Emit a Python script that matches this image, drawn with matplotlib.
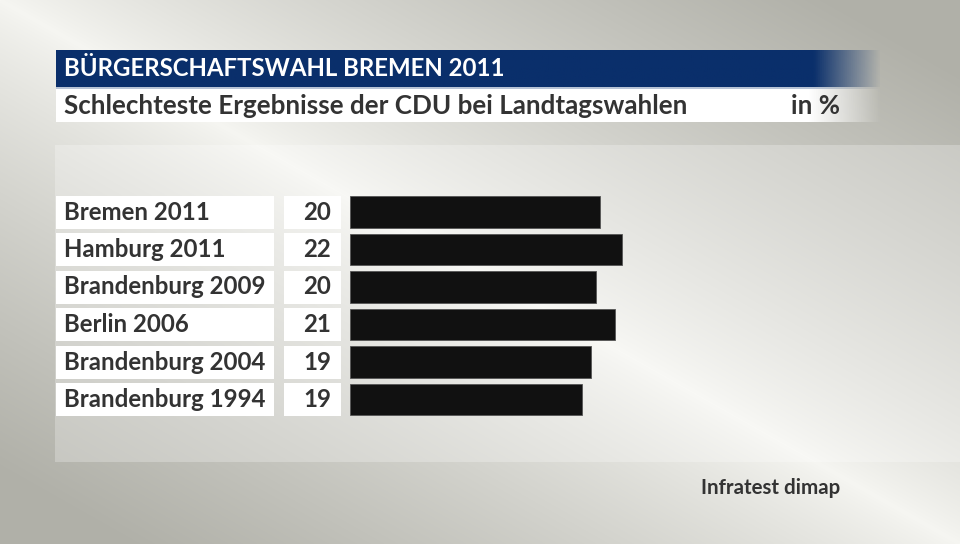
import numpy as np
import matplotlib
matplotlib.use("Agg")
import matplotlib.pyplot as plt
from matplotlib.patches import Rectangle
from matplotlib.transforms import blended_transform_factory

# data
labels = ["Bremen 2011", "Hamburg 2011", "Brandenburg 2009",
          "Berlin 2006", "Brandenburg 2004", "Brandenburg 1994"]
values = [20.1, 21.9, 19.8, 21.3, 19.4, 18.7]
shown = ["20", "22", "20", "21", "19", "19"]

title = "BÜRGERSCHAFTSWAHL BREMEN 2011"
subtitle = "Schlechteste Ergebnisse der CDU bei Landtagswahlen"
unit = "in %"
source = "Infratest dimap"

W, H = 960, 544
FONT = "Lato"
TXT = "#333333"

fig = plt.figure(figsize=(W / 100, H / 100), dpi=100)

# background: light along the diagonal, grey in the top-right / bottom-left
bg = fig.add_axes([0, 0, 1, 1])
bg.set_xlim(0, W)
bg.set_ylim(H, 0)
bg.axis("off")
xx, yy = np.meshgrid(np.linspace(0, 1, W), np.linspace(0, 1, H))
d = np.clip(np.abs(xx - yy) * 1.15, 0, 1) ** 0.8
light = np.array([246, 246, 242]) / 255
grey = np.array([176, 176, 168]) / 255
img = light[None, None, :] * (1 - d[..., None]) + grey[None, None, :] * d[..., None]
# lighter panel behind the chart
panel = (xx * W >= 55) & (yy * H >= 145) & (yy * H <= 462)
img[panel] = img[panel] * 0.75 + 0.25
bg.imshow(img, extent=(0, W, H, 0), aspect="auto", zorder=0)


def fade_bar(x0, x1, y0, y1, color, fade_start):
    cols = np.linspace(x0, x1, 400)
    a = np.clip((x1 - cols) / (x1 - fade_start), 0, 1)
    rgba = np.zeros((1, 400, 4))
    rgba[..., :3] = matplotlib.colors.to_rgb(color)
    rgba[..., 3] = a
    bg.imshow(rgba, extent=(x0, x1, y1, y0), aspect="auto", zorder=1)


fade_bar(56, 882, 50, 87, "#0a2f6b", 815)
fade_bar(56, 882, 87, 89, "#b8c4d6", 815)
fade_bar(56, 882, 89, 122, "#ffffff", 810)

bg.text(64, 69, title, color="white", fontsize=17.3, fontweight="bold",
        family=FONT, va="center", ha="left", zorder=3)
bg.text(64, 105.5, subtitle, color=TXT, fontsize=18.7, fontweight="bold",
        family=FONT, va="center", ha="left", zorder=3)
bg.text(840, 105.5, unit, color=TXT, fontsize=18.7, fontweight="bold",
        family=FONT, va="center", ha="right", zorder=3)
bg.text(840, 488, source, color=TXT, fontsize=14.8, fontweight="bold",
        family=FONT, va="center", ha="right", zorder=3)

# bar axes: x 0..25 over 350..660.5 px, rows centred at 212 .. 399.5 px
px_per_unit = 12.42
x_left, x_right = 350, 350 + 25 * px_per_unit
y_top, y_bot = 212 - 18.75, 399.5 + 18.75
ax = fig.add_axes([x_left / W, 1 - y_bot / H, (x_right - x_left) / W, (y_bot - y_top) / H])
ax.set_xlim(0, 25)
ax.set_ylim(len(labels) - 0.5, -0.5)
ax.axis("off")
ax.patch.set_alpha(0)

ypos = np.arange(len(labels))
ax.barh(ypos, values, height=0.85, color="#111111", edgecolor="#555555",
        linewidth=0.6, zorder=3)

tr = blended_transform_factory(fig.transFigure, ax.transData)
for y, lab, s in zip(ypos, labels, shown):
    ax.add_patch(Rectangle((56 / W, y - 0.44), (274 - 56) / W, 0.88,
                           transform=tr, facecolor="white", edgecolor="none",
                           clip_on=False, zorder=2))
    ax.add_patch(Rectangle((284 / W, y - 0.44), (341 - 284) / W, 0.88,
                           transform=tr, facecolor="white", edgecolor="none",
                           clip_on=False, zorder=2))
    ax.text(64 / W, y, lab, transform=tr, color=TXT, fontsize=17.3,
            fontweight="bold", family=FONT, va="center", ha="left", zorder=4)
    ax.text(331 / W, y, s, transform=tr, color=TXT, fontsize=17.3,
            fontweight="bold", family=FONT, va="center", ha="right", zorder=4)

fig.savefig("out.png", dpi=100)
